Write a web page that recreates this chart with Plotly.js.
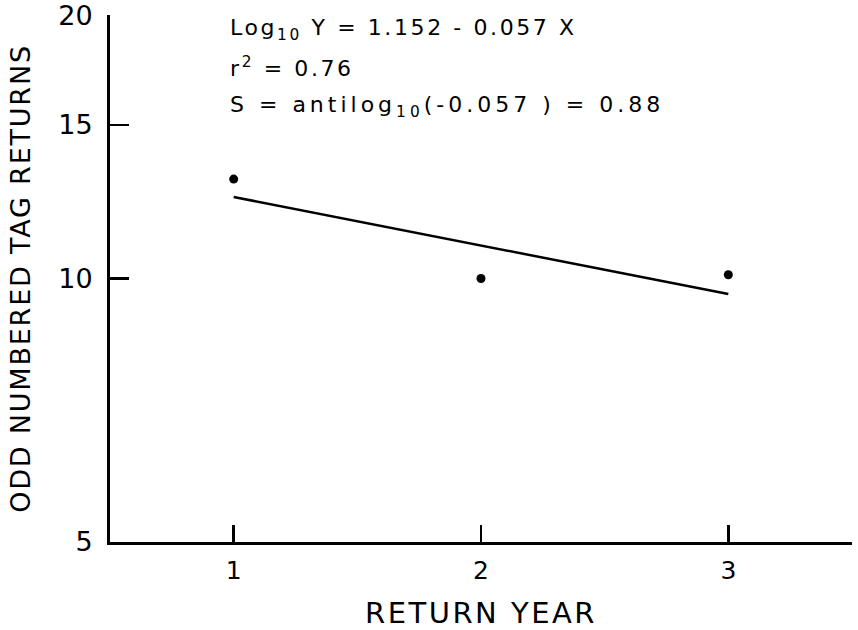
<!DOCTYPE html>
<html>
<head>
<meta charset="utf-8">
<script src="https://cdn.plot.ly/plotly-3.0.1.min.js"></script>
<style>
html,body{margin:0;padding:0;background:#fff;}
#chart{width:858px;height:630px;}
#chart .annotation-text{letter-spacing:2.6px;}
#chart g.annotation[data-index="2"] .annotation-text{letter-spacing:4px;}
#chart .xtitle{letter-spacing:2.5px;}
#chart .ytitle{letter-spacing:1.8px;}
</style>
</head>
<body>
<div id="chart"></div>
<script>
// Observed returns
var returnYears = [1, 2, 3];
var tagReturns = [13.0, 10.0, 10.1];
// Fitted regression line
var fitYears = [1, 3];
var fitReturns = [12.4, 9.6];
// Tick labels
var xTickVals = [1, 2, 3];
var xTickText = ['1', '2', '3'];
var yTickVals = [5, 10, 15, 20];
var yTickText = ['5', '10', '15', '20'];
// Annotation lines
var eqLines = [
  'Log<sub>10</sub> Y = 1.152 - 0.057 X',
  'r<sup>2</sup> = 0.76',
  'S = antilog<sub>10</sub>(-0.057 ) = 0.88'
];

var FONT = 'DejaVu Sans, Verdana, sans-serif';

var traces = [
  {
    x: fitYears, y: fitReturns, type: 'scatter', mode: 'lines',
    line: {color: '#000', width: 2.5}, hoverinfo: 'skip', showlegend: false
  },
  {
    x: returnYears, y: tagReturns, type: 'scatter', mode: 'markers',
    marker: {color: '#000', size: 9}, showlegend: false
  }
];

var eqY = [0.972, 0.902, 0.826];
var annotations = eqLines.map(function (t, i) {
  return {
    text: t, xref: 'paper', yref: 'paper', x: 0.159, y: eqY[i],
    xanchor: 'left', yanchor: 'middle', showarrow: false, align: 'left',
    font: {family: FONT, size: 22, color: '#000'}
  };
});

var layout = {
  width: 858, height: 630,
  margin: {l: 110, r: 6, t: 15, b: 88},
  paper_bgcolor: '#fff', plot_bgcolor: '#fff',
  showlegend: false,
  font: {family: FONT, color: '#000'},
  xaxis: {
    range: [0.5, 3.5], tickvals: xTickVals, ticktext: xTickText,
    ticks: 'inside', ticklen: 17, tickwidth: 2.5, tickcolor: '#000',
    showline: true, linecolor: '#000', linewidth: 3, mirror: false,
    showgrid: false, zeroline: false, ticklabelstandoff: 4,
    tickfont: {family: FONT, size: 25, color: '#000'},
    title: {text: 'RETURN YEAR', font: {family: FONT, size: 29, color: '#000'}, standoff: 20}
  },
  yaxis: {
    type: 'log', range: [Math.log10(5) - 0.001, Math.log10(20) + 0.001],
    tickvals: yTickVals, ticktext: yTickText,
    ticks: 'inside', ticklen: 19, tickwidth: 2.5, tickcolor: '#000',
    showline: true, linecolor: '#000', linewidth: 3, mirror: false,
    showgrid: false, zeroline: false, ticklabelstandoff: 9,
    tickfont: {family: FONT, size: 27, color: '#000'},
    title: {text: 'ODD NUMBERED TAG RETURNS', font: {family: FONT, size: 27, color: '#000'}, standoff: 20}
  },
  annotations: annotations
};

Plotly.newPlot('chart', traces, layout, {displayModeBar: false, staticPlot: true});
</script>
</body>
</html>
